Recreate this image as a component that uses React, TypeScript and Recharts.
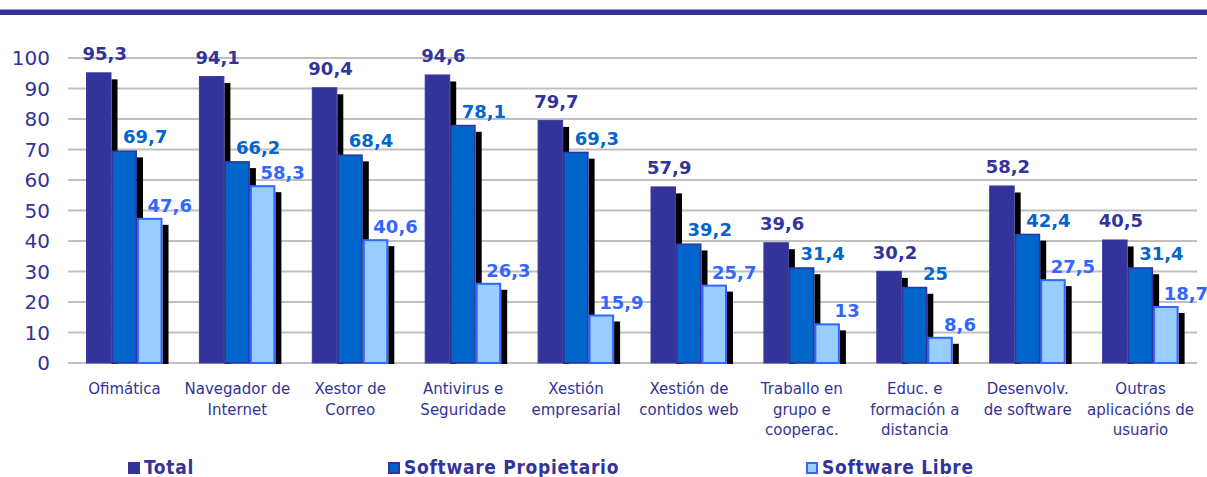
import { BarChart, Bar, XAxis, YAxis, CartesianGrid, Legend, LabelList } from 'recharts'

// ─── Datos ───────────────────────────────────────────────────────────────────

const categorias = [
  'Ofimática',
  'Navegador de\nInternet',
  'Xestor de\nCorreo',
  'Antivirus e\nSeguridade',
  'Xestión\nempresarial',
  'Xestión de\ncontidos web',
  'Traballo en\ngrupo e\ncooperac.',
  'Educ. e\nformación a\ndistancia',
  'Desenvolv.\nde software',
  'Outras\naplicacións de\nusuario',
]

const total = [95.3, 94.1, 90.4, 94.6, 79.7, 57.9, 39.6, 30.2, 58.2, 40.5]
const propietario = [69.7, 66.2, 68.4, 78.1, 69.3, 39.2, 31.4, 25, 42.4, 31.4]
const libre = [47.6, 58.3, 40.6, 26.3, 15.9, 25.7, 13, 8.6, 27.5, 18.7]

const ticksY = [0, 10, 20, 30, 40, 50, 60, 70, 80, 90, 100]

const dados = categorias.map((c, i) => ({
  categoria: c,
  total: total[i],
  propietario: propietario[i],
  libre: libre[i],
}))

const FONT = '"DejaVu Sans", Verdana, sans-serif'
const AZUL = '#333399'

// ─── Barra con sombra ────────────────────────────────────────────────────────

function barraConSombra(fill: string, stroke: string, sw: number) {
  return (props: any) => {
    const { x, y, width, height } = props
    if (!height || height <= 0) return <g />
    return (
      <g>
        <rect x={x + width} y={y + 7} width={6} height={Math.max(height - 6, 0)} fill="#000" />
        <rect
          x={x + sw / 2}
          y={y + sw / 2}
          width={width - sw}
          height={height - sw / 2}
          fill={fill}
          stroke={stroke}
          strokeWidth={sw}
        />
      </g>
    )
  }
}

function etiqueta(color: string, dx: number, dy: number) {
  return (props: any) => {
    const { x, y, width, value } = props
    return (
      <text
        x={x + width / 2 + dx}
        y={y - dy}
        textAnchor="middle"
        fill={color}
        fontFamily={FONT}
        fontWeight="bold"
        fontSize={18}
      >
        {String(value).replace('.', ',')}
      </text>
    )
  }
}

function TickCategoria(props: any) {
  const { x, y, payload } = props
  const linhas = String(payload.value).split('\n')
  return (
    <text x={x} y={y} textAnchor="middle" fill={AZUL} fontFamily={FONT} fontSize={15}>
      {linhas.map((l, i) => (
        <tspan key={i} x={x} dy={i === 0 ? 29 : 20.5}>
          {l}
        </tspan>
      ))}
    </text>
  )
}

const itensLegenda = [
  { nome: 'Total', fill: '#333399', stroke: '#333399', left: 128 },
  { nome: 'Software Propietario', fill: '#0066CC', stroke: '#333399', left: 388 },
  { nome: 'Software Libre', fill: '#99CCFF', stroke: '#3366FF', left: 806 },
]

function legenda() {
  return (
    <div style={{ position: 'relative', width: 1207, height: 19 }}>
      {itensLegenda.map((it) => (
        <div
          key={it.nome}
          style={{ position: 'absolute', left: it.left, top: 0, display: 'flex', alignItems: 'center' }}
        >
          <span
            style={{
              width: 12,
              height: 12,
              boxSizing: 'border-box',
              background: it.fill,
              border: `2px solid ${it.stroke}`,
              marginRight: 4,
            }}
          />
          <span
            style={{
              fontFamily: '"DejaVu Sans Condensed", "DejaVu Sans", sans-serif',
              fontWeight: 'bold',
              fontSize: 19,
              color: AZUL,
              lineHeight: '19px',
              letterSpacing: 0.7,
              whiteSpace: 'nowrap',
            }}
          >
            {it.nome}
          </span>
        </div>
      ))}
    </div>
  )
}

export default function App() {
  return (
    <div style={{ position: 'absolute', left: 0, top: 0, width: 1207, height: 477, background: '#fff', overflow: 'hidden' }}>
      <div
        style={{
          position: 'absolute',
          left: 0,
          top: 9,
          width: 1207,
          height: 6,
          background: '#333399',
          borderTop: '1px solid #9999cc',
          boxSizing: 'border-box',
        }}
      />
      <BarChart
        width={1207}
        height={477}
        data={dados}
        margin={{ top: 58, right: 10, left: 0, bottom: 0 }}
        barGap={0}
        barSize={25.5}
      >
        <CartesianGrid vertical={false} stroke="#c0c0c0" strokeWidth={2} />
        <XAxis
          dataKey="categoria"
          axisLine={false}
          tickLine={false}
          tickSize={0}
          height={114}
          interval={0}
          tick={<TickCategoria />}
        />
        <YAxis
          width={68}
          domain={[0, 100]}
          ticks={ticksY}
          axisLine={false}
          tickLine={false}
          tickSize={0}
          tickMargin={18}
          tick={{ fill: AZUL, fontSize: 20, fontFamily: FONT }}
        />
        <Legend
          layout="horizontal"
          verticalAlign="middle"
          content={legenda}
          wrapperStyle={{ top: 458, left: 0, width: 1207 }}
        />
        <Bar dataKey="total" name="Total" fill="#333399" isAnimationActive={false} shape={barraConSombra('#333399', '#3a3aa0', 1)}>
          <LabelList dataKey="total" content={etiqueta('#333399', 6, 12)} />
        </Bar>
        <Bar dataKey="propietario" name="Software Propietario" fill="#0066CC" isAnimationActive={false} shape={barraConSombra('#0066CC', '#333399', 1.5)}>
          <LabelList dataKey="propietario" content={etiqueta('#0066CC', 21, 7)} />
        </Bar>
        <Bar dataKey="libre" name="Software Libre" fill="#99CCFF" isAnimationActive={false} shape={barraConSombra('#99CCFF', '#3366FF', 2)}>
          <LabelList dataKey="libre" content={etiqueta('#3366FF', 20, 6)} />
        </Bar>
      </BarChart>
    </div>
  )
}
